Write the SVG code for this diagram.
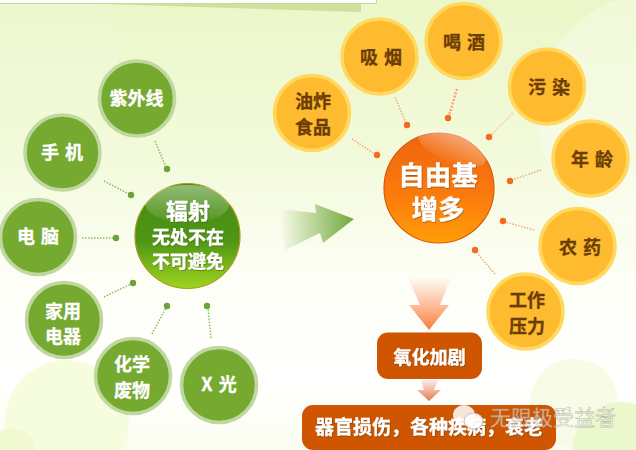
<svg xmlns="http://www.w3.org/2000/svg" width="636" height="450" viewBox="0 0 636 450">
<style>
text{font-family:"Noto Sans CJK SC","Noto Sans",sans-serif;font-weight:700;text-anchor:middle}
.g-ring{fill:#75a930;stroke:#bfd8a0;stroke-width:3.6}
.o-ring{fill:#febb2f;stroke:#fed85f;stroke-width:3.6}
.w{fill:#fff;stroke:#fff;stroke-width:.3;font-size:18px;word-spacing:2px}
.b{fill:#6b3d05;stroke:#6b3d05;stroke-width:.3;font-size:18px;word-spacing:2px}
.gl{stroke:#8abb62;stroke-width:1.5;stroke-dasharray:1.5 1.5;fill:none}
.ol{stroke:#f6a97c;stroke-width:1.5;stroke-dasharray:1.5 1.5;fill:none}
.gd{fill:#6ba53a}
.od{fill:#f36c1e}
.box{fill:#cf5500}
</style>
<defs>
<linearGradient id="bg" x1="0" y1="0" x2="0" y2="1">
<stop offset="0" stop-color="#ebf7c8"/><stop offset=".35" stop-color="#f3fadb"/><stop offset=".62" stop-color="#fdfef6"/><stop offset=".85" stop-color="#ffffff"/><stop offset="1" stop-color="#fbfdf0"/>
</linearGradient>
<linearGradient id="cg" x1="0" y1="0" x2="0" y2="1"><stop offset="0" stop-color="#468a14"/><stop offset=".55" stop-color="#4f9614"/><stop offset="1" stop-color="#a0d41f"/></linearGradient>
<linearGradient id="co" x1="0" y1="0" x2="0" y2="1"><stop offset="0" stop-color="#ee6510"/><stop offset=".55" stop-color="#fb7a0c"/><stop offset="1" stop-color="#ff9d08"/></linearGradient>
<linearGradient id="gloss" x1="0" y1="0" x2="0" y2="1"><stop offset="0" stop-color="#fff" stop-opacity=".42"/><stop offset="1" stop-color="#fff" stop-opacity=".04"/></linearGradient>
<linearGradient id="arrG" gradientUnits="userSpaceOnUse" x1="280" y1="0" x2="354" y2="0"><stop offset="0" stop-color="#6fa83a" stop-opacity="0"/><stop offset="1" stop-color="#6fa83a"/></linearGradient>
<linearGradient id="arrO" x1="0" y1="0" x2="0" y2="1"><stop offset="0" stop-color="#ff8a50" stop-opacity="0"/><stop offset="1" stop-color="#fb7c3c"/></linearGradient>
<linearGradient id="arrO2" x1="0" y1="0" x2="0" y2="1"><stop offset="0" stop-color="#e8805a" stop-opacity=".15"/><stop offset="1" stop-color="#e07a50"/></linearGradient>
<filter id="sh" x="-10%" y="-10%" width="120%" height="130%"><feDropShadow dx="0.6" dy="0.8" stdDeviation="0.6" flood-color="#3a3a00" flood-opacity=".55"/></filter>
</defs>

<g id="background">
<rect width="636" height="450" fill="url(#bg)"/>
<circle cx="48" cy="45" r="72" fill="#fff" opacity=".09"/>
<circle cx="655" cy="112" r="118" fill="#fff" opacity=".3"/>
<circle cx="67" cy="422" r="62" fill="#f6fcde"/>
<circle cx="12" cy="452" r="24" fill="#f0f9d0"/>
<circle cx="574" cy="403" r="44" fill="#f8fbe6"/>
<circle cx="622" cy="452" r="50" fill="#ebf8cb"/>
<rect x="0" y="0" width="377" height="3.5" fill="#fff"/>
<path d="M376.5 0V3.5H0" fill="none" stroke="#c5d98f"/>
<polygon points="85,3.5 361,3.5 361,12" fill="#cfdf9c"/>
</g>

<g id="connectors">
<path class="gl" d="M155 141L166 167"/><circle class="gd" cx="167" cy="169" r="3.2"/>
<path class="gl" d="M104 181L129 194"/><circle class="gd" cx="131" cy="195" r="3.2"/>
<path class="gl" d="M82 238H114"/><circle class="gd" cx="116" cy="238" r="3.2"/>
<path class="gl" d="M104 297L131 284"/><circle class="gd" cx="133" cy="283" r="3.2"/>
<path class="gl" d="M152 334L166 308"/><circle class="gd" cx="167" cy="306" r="3.2"/>
<path class="gl" d="M211 338L208 308"/><circle class="gd" cx="207" cy="306" r="3.2"/>
<path class="ol" d="M352 139L375 154"/><circle class="od" cx="377" cy="155" r="3.2"/>
<path class="ol" d="M395 97L406 123"/><circle class="od" cx="407" cy="125" r="3.2"/>
<path class="ol" style="stroke-width:2.6;stroke-dasharray:2 1.5" d="M457 89L449 116"/><circle class="od" cx="448" cy="118" r="3.2"/>
<path class="ol" style="stroke:#f6d8b4;stroke-width:2.2;stroke-dasharray:2 1.5" d="M513 113L491 135"/><circle class="od" cx="489" cy="137" r="3.2"/>
<path class="ol" d="M541 170L512 180"/><circle class="od" cx="510" cy="181" r="3.2"/>
<path class="ol" d="M534 230L505 222"/><circle class="od" cx="503" cy="221" r="3.2"/>
<path class="ol" d="M495 274L476 252"/><circle class="od" cx="475" cy="250" r="3.2"/>
</g>

<g id="arrows">
<polygon points="280,209 316,213 315,204 354,219 323,243 320,233 285,250" fill="url(#arrG)"/>
<polygon points="408,277 451,277 440,305 449,305 429,330 409,305 420,305" fill="url(#arrO)"/>
<polygon points="421,380 438,380 434,390 441,390 429,401 417,390 424,390" fill="url(#arrO2)"/>
</g>

<g id="n-ziwaixian"><circle class="g-ring" cx="137" cy="98.5" r="37.5"/><text class="w" x="136.5" y="105">紫外线</text></g>
<g id="n-shouji"><circle class="g-ring" cx="62.5" cy="152.5" r="37.5"/><text class="w" x="62" y="159">手 机</text></g>
<g id="n-diannao"><circle class="g-ring" cx="38" cy="237" r="37.5"/><text class="w" x="38" y="243">电 脑</text></g>
<g id="n-jiayong"><circle class="g-ring" cx="64" cy="320" r="37.5"/><text class="w" x="63" y="318">家用</text><text class="w" x="63" y="343">电器</text></g>
<g id="n-huaxue"><circle class="g-ring" cx="133" cy="376" r="37.5"/><text class="w" x="132" y="371">化学</text><text class="w" x="132" y="397">废物</text></g>
<g id="n-xguang"><circle class="g-ring" cx="219" cy="385" r="37.5"/><text class="w" x="219" y="391">X 光</text></g>

<g id="n-fushe">
<circle cx="187.5" cy="236" r="52.5" fill="url(#cg)" stroke="#a99a1c" stroke-width="1.2"/>
<ellipse cx="187.5" cy="204" rx="42" ry="19" fill="url(#gloss)"/>
<g filter="url(#sh)"><text x="188" y="219" fill="#fff" stroke="#fff" stroke-width=".3" font-size="22">辐射</text>
<text x="188" y="244" fill="#fff" stroke="#fff" stroke-width=".3" font-size="18">无处不在</text>
<text x="188" y="268" fill="#fff" stroke="#fff" stroke-width=".3" font-size="18">不可避免</text></g>
</g>

<g id="n-youzha"><circle class="o-ring" cx="312" cy="113" r="37.5"/><text class="b" x="313" y="108">油炸</text><text class="b" x="313" y="134">食品</text></g>
<g id="n-xiyan"><circle class="o-ring" cx="379.5" cy="56.5" r="37.5"/><text class="b" x="381" y="64">吸 烟</text></g>
<g id="n-hejiu"><circle class="o-ring" cx="463.5" cy="41" r="37.5"/><text class="b" x="464" y="49">喝 酒</text></g>
<g id="n-wuran"><circle class="o-ring" cx="547" cy="86.5" r="37.5"/><text class="b" x="549" y="94">污 染</text></g>
<g id="n-nianling"><circle class="o-ring" cx="590.5" cy="158.5" r="37.5"/><text class="b" x="592" y="166">年 龄</text></g>
<g id="n-nongyao"><circle class="o-ring" cx="577.5" cy="246" r="37.5"/><text class="b" x="580" y="254">农 药</text></g>
<g id="n-gongzuo"><circle class="o-ring" cx="525.5" cy="311.5" r="37.5"/><text class="b" x="527" y="307">工作</text><text class="b" x="527" y="333">压力</text></g>

<g id="n-ziyouji">
<circle cx="439" cy="188" r="55" fill="url(#co)" stroke="#d9570c" stroke-width="1.2"/>
<ellipse cx="452" cy="148" rx="36" ry="14" transform="rotate(22 452 148)" fill="url(#gloss)"/>
<g filter="url(#sh)"><text x="438" y="185" fill="#fff" stroke="#fff" stroke-width=".3" font-size="26.5">自由基</text>
<text x="438" y="219" fill="#fff" stroke="#fff" stroke-width=".3" font-size="26.5">增多</text></g>
</g>

<g id="n-yanghua"><rect class="box" x="377" y="332.5" width="105" height="46.5" rx="11"/><text class="w" x="429.5" y="364" filter="url(#sh)">氧化加剧</text></g>
<g id="n-qiguan"><rect class="box" x="302" y="405" width="254" height="45" rx="11"/><text class="w" x="429" y="434" style="font-size:19px" filter="url(#sh)">器官损伤，各种疾病，衰老</text></g>

<g id="watermark">
<ellipse cx="464" cy="415" rx="11" ry="10" fill="#fff" opacity=".85"/>
<ellipse cx="473.5" cy="421" rx="9.5" ry="8" fill="#fff" stroke="#a8a8a0" stroke-width=".8" opacity=".9"/>
<text x="553" y="425" font-size="21" style="font-weight:400" fill="#fff" fill-opacity=".55" stroke="#8a8a80" stroke-width=".3">无限极受益者</text>
</g>
</svg>
